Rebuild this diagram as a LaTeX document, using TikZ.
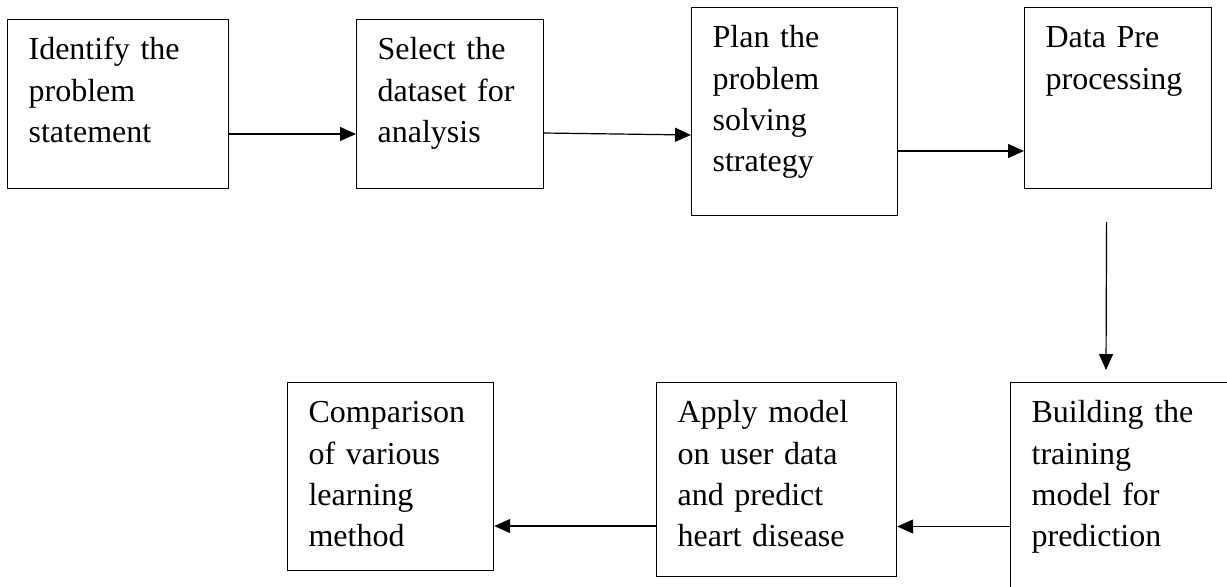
\documentclass[tikz,border=0pt]{standalone}
\usepackage{fontspec}
\setmainfont{Liberation Serif}
\usetikzlibrary{arrows.meta}

\begin{document}
\begin{tikzpicture}[x=0.5pt,y=-0.5pt,>={Triangle[length=8pt,width=7pt]},
	stage/.style={draw, line width=0.6pt, anchor=north west, align=left,
		inner xsep=10.5pt, inner ysep=0pt, text height=20pt,
		font=\fontsize{16pt}{20.7pt}\selectfont},
	flow/.style={->, line width=0.6pt}]
	
	% --- Page frame (the last box runs off the edge)
	\useasboundingbox[fill=white] (0,0) rectangle (1227,586);
	\clip (0,0) rectangle (1227,586);
	
	% --- Top row
	\node[stage, text width=89.5pt, text depth=64.5pt] (ident) at (7,19) {Identify the\\problem\\statement};
	\node[stage, text width=72.5pt, text depth=64.5pt] (select) at (356,19) {Select the\\dataset for\\analysis};
	\node[stage, text width=82pt, text depth=84pt] (plan) at (691,7) {Plan the\\problem\\solving\\strategy};
	\node[stage, text width=72.5pt, text depth=70.5pt] (prep) at (1024,7) {Data Pre\\processing};
	
	% --- Bottom row
	\node[stage, text width=82pt, text depth=74pt] (compare) at (287,382) {Comparison\\of various\\learning\\method};
	\node[stage, text width=99pt, text depth=77pt] (apply) at (656,382) {Apply model\\on user data\\and predict\\heart disease};
	\node[stage, text width=94pt, text depth=89pt] (build) at (1010,382) {Building the\\training\\model for\\prediction};
	
	% --- Connectors
	\draw[flow] ([yshift=-57.5pt]ident.north east) -- ([yshift=-57.5pt]select.north west);
	\draw[flow] ([yshift=-57pt]select.north east) -- ([yshift=-64pt]plan.north west);
	\draw[flow] ([yshift=-72pt]plan.north east) -- ([yshift=-72pt]prep.north west);
	\draw[flow] ([shift={(-5.75pt,-16.5pt)}]prep.south) -- ([shift={(48pt,6pt)}]build.north west);
	\draw[flow] ([yshift=-72.25pt]build.north west) -- ([yshift=-72.25pt]apply.north east);
	\draw[flow] ([yshift=-72pt]apply.north west) -- ([yshift=-72pt]compare.north east);
	
\end{tikzpicture}
\end{document}
